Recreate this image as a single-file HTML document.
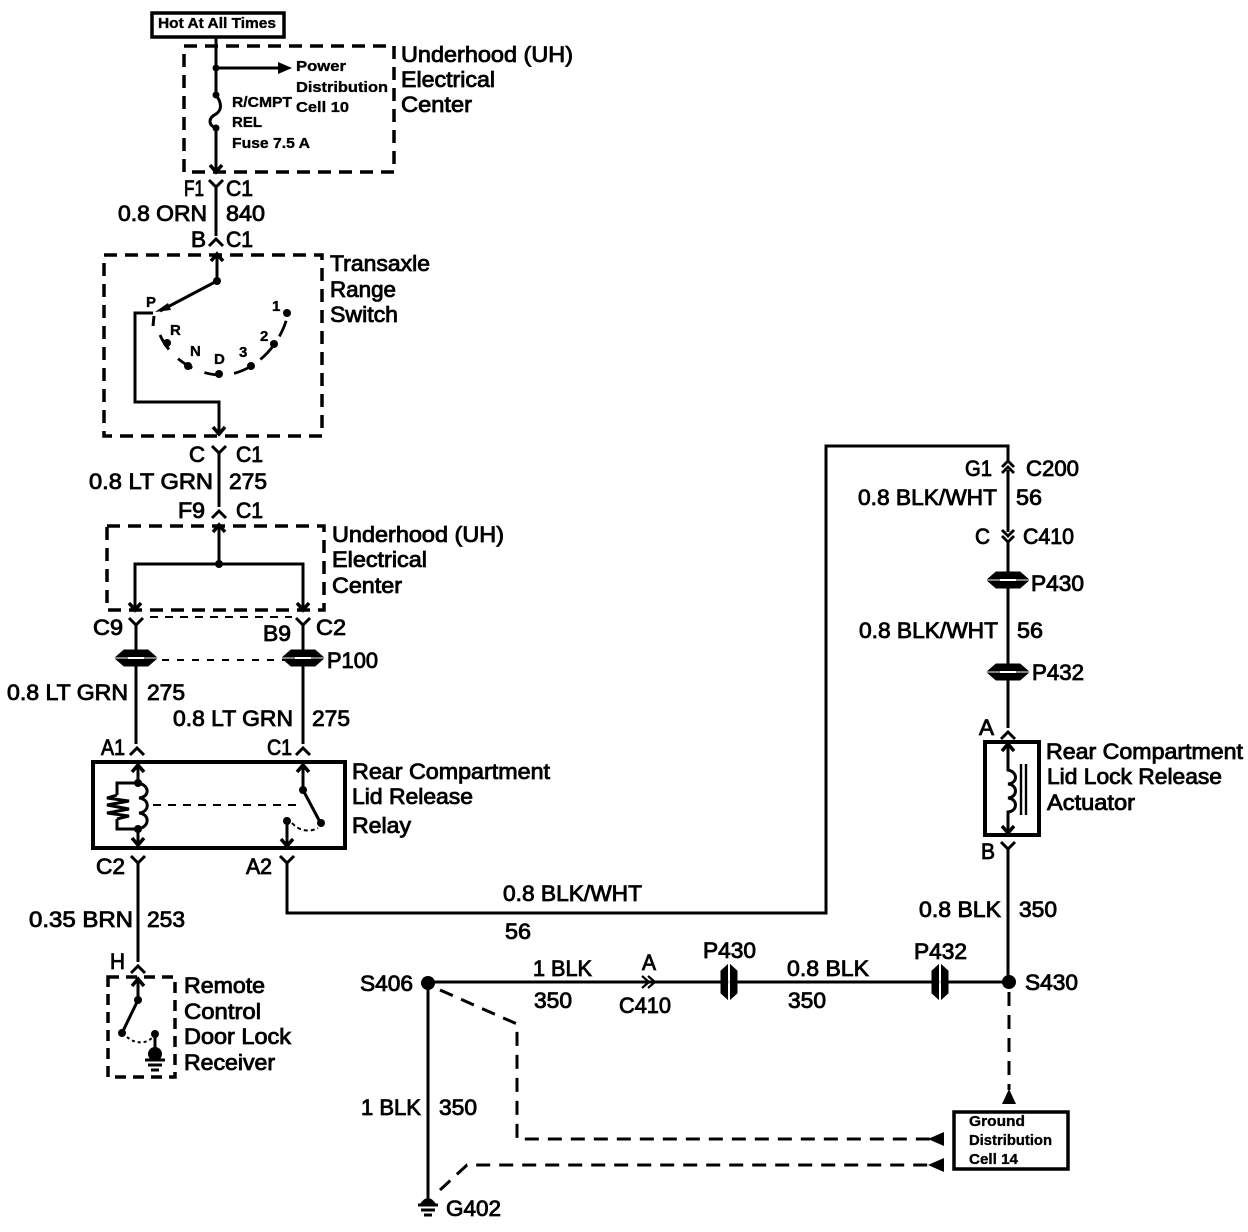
<!DOCTYPE html>
<html><head><meta charset="utf-8"><title>Rear Compartment Lid Release</title>
<style>
html,body{margin:0;padding:0;background:#fff;width:1248px;height:1232px;overflow:hidden}
svg{display:block}
text{font-family:"Liberation Sans",sans-serif;fill:#000;stroke:#000;stroke-width:.85;font-size:22px}
.s{font-size:15px;font-weight:bold;stroke-width:.35}
.l{fill:none;stroke:#000;stroke-width:3;stroke-linejoin:miter}
.t{fill:none;stroke:#000;stroke-width:2}
.d{fill:none;stroke:#000;stroke-width:3.5;stroke-dasharray:13 8}
.d2{fill:none;stroke:#000;stroke-width:2;stroke-dasharray:8 7}
</style></head><body>
<svg width="1248" height="1232" viewBox="0 0 1248 1232" xmlns="http://www.w3.org/2000/svg">
<defs>
<g id="Y"><path d="M-7,-7 L0,0 L7,-7 M0,0 V7" fill="none" stroke="#000" stroke-width="3"/></g>
<g id="U"><path d="M-7,5 L0,-2 L7,5" fill="none" stroke="#000" stroke-width="3"/></g>
<g id="au"><path d="M-6,7 L0,0 L6,7" fill="none" stroke="#000" stroke-width="3.5"/></g>
<g id="ad"><path d="M-6,-7 L0,0 L6,-7" fill="none" stroke="#000" stroke-width="3.5"/></g>
<g id="ph"><path d="M-20,-1 L-12,-8 H12 L20,-1 Z M-20,1 L-12,8 H12 L20,1 Z" fill="#000" stroke="#000" stroke-width="1"/><path d="M-8,0 H8" stroke="#fff" stroke-width="2"/></g>
<g id="pv"><path d="M-1.5,-17 L-8,-11 V11 L-1.5,17 Z M1.5,-17 L8,-11 V11 L1.5,17 Z" fill="#000" stroke="#000" stroke-width="1"/><path d="M0,-9 V9" stroke="#fff" stroke-width="1.6"/></g>
<g id="gnd"><path d="M-10,0 H10 M-7,5 H7 M-4,10 H4" fill="none" stroke="#000" stroke-width="3"/></g>
</defs>

<!-- Hot at all times -->
<rect x="152" y="13" width="132" height="24" fill="none" stroke="#000" stroke-width="3.5"/>
<text class="s" x="158" y="28" textLength="118" lengthAdjust="spacingAndGlyphs">Hot At All Times</text>

<!-- Top UH box -->
<rect x="184" y="46" width="210" height="126" class="d"/>
<path class="l" d="M216,37 V95 M216,68 H285 M216,128 V172"/>
<path d="M278,62 L292,68 L278,74 Z" fill="#000"/>
<path class="l" d="M216,95 C222,103 222,110 216,114 C208,118 208,125 216,128"/>
<circle cx="216" cy="68" r="3.5"/><circle cx="216" cy="95" r="3.5"/><circle cx="216" cy="128" r="3.5"/>
<use href="#ad" x="216" y="172"/>
<text class="s" x="296" y="71" textLength="50" lengthAdjust="spacingAndGlyphs">Power</text>
<text class="s" x="296" y="92" textLength="92" lengthAdjust="spacingAndGlyphs">Distribution</text>
<text class="s" x="296" y="112" textLength="53" lengthAdjust="spacingAndGlyphs">Cell 10</text>
<text class="s" x="232" y="107" textLength="60" lengthAdjust="spacingAndGlyphs">R/CMPT</text>
<text class="s" x="232" y="127" textLength="30" lengthAdjust="spacingAndGlyphs">REL</text>
<text class="s" x="232" y="148" textLength="78" lengthAdjust="spacingAndGlyphs">Fuse 7.5 A</text>
<text x="401" y="62" textLength="172" lengthAdjust="spacingAndGlyphs">Underhood (UH)</text>
<text x="401" y="87" textLength="94" lengthAdjust="spacingAndGlyphs">Electrical</text>
<text x="401" y="112" textLength="71" lengthAdjust="spacingAndGlyphs">Center</text>

<text x="184" y="196" textLength="20" lengthAdjust="spacingAndGlyphs">F1</text>
<text x="226" y="196" textLength="27" lengthAdjust="spacingAndGlyphs">C1</text>
<use href="#Y" x="216" y="187"/>
<path class="l" d="M216,194 V236"/>
<text x="118" y="221" textLength="89" lengthAdjust="spacingAndGlyphs">0.8 ORN</text>
<text x="226" y="221" textLength="39" lengthAdjust="spacingAndGlyphs">840</text>
<text x="191" y="247" textLength="15" lengthAdjust="spacingAndGlyphs">B</text>
<text x="226" y="247" textLength="27" lengthAdjust="spacingAndGlyphs">C1</text>
<use href="#U" x="216" y="241"/>

<!-- Transaxle -->
<rect x="104" y="255" width="218" height="181" class="d"/>
<path class="l" d="M217,256 V281 L160,311"/>
<use href="#au" x="217" y="254"/>
<circle cx="217" cy="281" r="4"/>
<path d="M155,312 L168,303 L171,310 Z" fill="#000"/>
<path class="l" d="M153,313 H135 V402 H219 V434"/>
<use href="#ad" x="219" y="434"/>
<path d="M154,316 L153,326" stroke="#000" stroke-width="3"/>
<path d="M160,335 C172,362 200,375 221,375 C250,375 278,350 287,318" fill="none" stroke="#000" stroke-width="2.8" stroke-dasharray="17 13"/>
<circle cx="167" cy="343" r="4"/><circle cx="188" cy="366" r="4"/><circle cx="219" cy="374" r="4"/><circle cx="251" cy="366" r="4"/><circle cx="274" cy="344" r="4"/><circle cx="287" cy="313" r="4"/>
<text class="s" x="146" y="307">P</text><text class="s" x="170" y="335">R</text><text class="s" x="190" y="356">N</text><text class="s" x="214" y="364">D</text><text class="s" x="239" y="357">3</text><text class="s" x="260" y="341">2</text><text class="s" x="272" y="311">1</text>
<text x="330" y="271" textLength="100" lengthAdjust="spacingAndGlyphs">Transaxle</text>
<text x="330" y="297" textLength="66" lengthAdjust="spacingAndGlyphs">Range</text>
<text x="330" y="322" textLength="68" lengthAdjust="spacingAndGlyphs">Switch</text>

<text x="189" y="462" textLength="16" lengthAdjust="spacingAndGlyphs">C</text>
<text x="236" y="462" textLength="27" lengthAdjust="spacingAndGlyphs">C1</text>
<use href="#Y" x="219" y="453"/>
<path class="l" d="M219,460 V507"/>
<text x="89" y="489" textLength="124" lengthAdjust="spacingAndGlyphs">0.8 LT GRN</text>
<text x="229" y="489" textLength="38" lengthAdjust="spacingAndGlyphs">275</text>
<text x="178" y="518" textLength="27" lengthAdjust="spacingAndGlyphs">F9</text>
<text x="236" y="518" textLength="27" lengthAdjust="spacingAndGlyphs">C1</text>
<use href="#U" x="219" y="513"/>

<!-- UH box 2 -->
<rect x="107" y="526" width="217" height="84" class="d"/>
<path class="l" d="M219,528 V564 M135,608 V564 H303 V608"/>
<use href="#au" x="219" y="525"/><circle cx="219" cy="564" r="4"/>
<use href="#ad" x="135" y="610"/><use href="#ad" x="303" y="610"/>
<text x="332" y="542" textLength="172" lengthAdjust="spacingAndGlyphs">Underhood (UH)</text>
<text x="332" y="567" textLength="95" lengthAdjust="spacingAndGlyphs">Electrical</text>
<text x="332" y="593" textLength="70" lengthAdjust="spacingAndGlyphs">Center</text>

<text x="93" y="635" textLength="30" lengthAdjust="spacingAndGlyphs">C9</text>
<text x="263" y="641" textLength="28" lengthAdjust="spacingAndGlyphs">B9</text>
<text x="316" y="635" textLength="30" lengthAdjust="spacingAndGlyphs">C2</text>
<use href="#Y" x="136" y="625"/><use href="#Y" x="303" y="625"/>
<path class="d2" d="M150,617 H292"/>
<path class="l" d="M136,632 V744 M303,632 V744"/>
<use href="#ph" x="136" y="658"/><use href="#ph" x="303" y="658"/>
<path class="d2" d="M162,660 H285" style="stroke-dasharray:7 8"/>
<text x="327" y="668" textLength="51" lengthAdjust="spacingAndGlyphs">P100</text>
<text x="7" y="700" textLength="121" lengthAdjust="spacingAndGlyphs">0.8 LT GRN</text>
<text x="147" y="700" textLength="38" lengthAdjust="spacingAndGlyphs">275</text>
<text x="173" y="726" textLength="120" lengthAdjust="spacingAndGlyphs">0.8 LT GRN</text>
<text x="312" y="726" textLength="38" lengthAdjust="spacingAndGlyphs">275</text>
<text x="101" y="755" textLength="24" lengthAdjust="spacingAndGlyphs">A1</text>
<text x="267" y="755" textLength="25" lengthAdjust="spacingAndGlyphs">C1</text>
<use href="#U" x="137" y="750"/><use href="#U" x="303" y="750"/>

<!-- Relay -->
<rect x="93" y="762" width="252" height="86" fill="none" stroke="#000" stroke-width="4"/>
<path class="l" d="M138,764 V783 M138,829 V846"/>
<use href="#au" x="138" y="765"/><use href="#ad" x="138" y="845"/>
<path class="l" d="M138,783 C150,785 150,797 139,798 C150,799 150,812 139,813 C150,814 150,827 138,829"/>
<path class="l" d="M138,783 H117 V795 M117,819 V829 H138 M117,795 L107,798 L129,801 L107,805 L129,809 L107,813 L129,816 L117,819"/>
<circle cx="138" cy="783" r="4"/><circle cx="138" cy="829" r="4"/>
<path class="d2" d="M153,805 H302"/>
<path class="l" d="M303,765 V790 L320,822"/>
<use href="#au" x="303" y="765"/>
<circle cx="303" cy="790" r="4"/><circle cx="321" cy="823" r="4"/><circle cx="287" cy="821" r="4"/>
<path class="l" d="M287,821 V846"/><use href="#ad" x="287" y="846"/>
<path d="M292,823 C300,832 310,832 318,828" fill="none" stroke="#000" stroke-width="2" stroke-dasharray="4 3"/>
<text x="352" y="779" textLength="198" lengthAdjust="spacingAndGlyphs">Rear Compartment</text>
<text x="352" y="804" textLength="121" lengthAdjust="spacingAndGlyphs">Lid Release</text>
<text x="352" y="833" textLength="59" lengthAdjust="spacingAndGlyphs">Relay</text>

<text x="96" y="874" textLength="29" lengthAdjust="spacingAndGlyphs">C2</text>
<text x="246" y="874" textLength="26" lengthAdjust="spacingAndGlyphs">A2</text>
<use href="#Y" x="138" y="863"/><use href="#Y" x="287" y="863"/>
<path class="l" d="M138,868 V962"/>
<path class="l" d="M287,868 V913 H826 V446 H1008 V463"/>
<text x="503" y="901" textLength="139" lengthAdjust="spacingAndGlyphs">0.8 BLK/WHT</text>
<text x="505" y="939" textLength="26" lengthAdjust="spacingAndGlyphs">56</text>
<text x="29" y="927" textLength="104" lengthAdjust="spacingAndGlyphs">0.35 BRN</text>
<text x="147" y="927" textLength="38" lengthAdjust="spacingAndGlyphs">253</text>
<text x="110" y="969" textLength="15" lengthAdjust="spacingAndGlyphs">H</text>
<use href="#U" x="138" y="968"/>

<!-- Receiver -->
<rect x="108" y="977" width="67" height="100" class="d" style="stroke-dasharray:11 7"/>
<path class="l" d="M138,980 V1000 L122,1033"/>
<use href="#au" x="138" y="979"/>
<circle cx="138" cy="1000" r="4"/><circle cx="122" cy="1033" r="4"/><circle cx="155" cy="1034" r="4"/>
<path d="M127,1037 C135,1044 145,1044 152,1038" fill="none" stroke="#000" stroke-width="2" stroke-dasharray="3 3"/>
<path class="l" d="M155,1034 V1058"/>
<circle cx="155" cy="1054" r="7"/><use href="#gnd" x="155" y="1060"/>
<text x="184" y="993" textLength="81" lengthAdjust="spacingAndGlyphs">Remote</text>
<text x="184" y="1019" textLength="77" lengthAdjust="spacingAndGlyphs">Control</text>
<text x="184" y="1044" textLength="107" lengthAdjust="spacingAndGlyphs">Door Lock</text>
<text x="184" y="1070" textLength="91" lengthAdjust="spacingAndGlyphs">Receiver</text>

<!-- Right column -->
<path d="M1002,467 L1008,461 L1014,467 M1002,473 L1008,467 L1014,473" fill="none" stroke="#000" stroke-width="2.8"/>
<path class="l" d="M1008,470 V532 M1008,540 V728"/>
<path d="M1002,530 L1008,536 L1014,530 M1002,536 L1008,542 L1014,536" fill="none" stroke="#000" stroke-width="2.8"/>
<text x="965" y="476" textLength="27" lengthAdjust="spacingAndGlyphs">G1</text>
<text x="1026" y="476" textLength="53" lengthAdjust="spacingAndGlyphs">C200</text>
<text x="858" y="505" textLength="139" lengthAdjust="spacingAndGlyphs">0.8 BLK/WHT</text>
<text x="1016" y="505" textLength="26" lengthAdjust="spacingAndGlyphs">56</text>
<text x="975" y="544" textLength="15" lengthAdjust="spacingAndGlyphs">C</text>
<text x="1023" y="544" textLength="51" lengthAdjust="spacingAndGlyphs">C410</text>
<use href="#ph" x="1008" y="580"/>
<text x="1031" y="591" textLength="53" lengthAdjust="spacingAndGlyphs">P430</text>
<text x="859" y="638" textLength="139" lengthAdjust="spacingAndGlyphs">0.8 BLK/WHT</text>
<text x="1017" y="638" textLength="26" lengthAdjust="spacingAndGlyphs">56</text>
<use href="#ph" x="1008" y="672"/>
<text x="1032" y="680" textLength="52" lengthAdjust="spacingAndGlyphs">P432</text>
<text x="979" y="735" textLength="15" lengthAdjust="spacingAndGlyphs">A</text>
<use href="#U" x="1008" y="734"/>

<rect x="985" y="742" width="54" height="93" fill="none" stroke="#000" stroke-width="4"/>
<path class="l" d="M1008,744 V770 C1018,772 1018,783 1008,784 C1018,785 1018,797 1008,798 C1018,799 1018,811 1008,812 V832"/>
<use href="#au" x="1008" y="744"/><use href="#ad" x="1008" y="833"/>
<path d="M1021,764 V815 M1026,764 V815" stroke="#000" stroke-width="2.4"/>
<text x="1046" y="759" textLength="197" lengthAdjust="spacingAndGlyphs">Rear Compartment</text>
<text x="1047" y="784" textLength="175" lengthAdjust="spacingAndGlyphs">Lid Lock Release</text>
<text x="1047" y="810" textLength="88" lengthAdjust="spacingAndGlyphs">Actuator</text>
<text x="981" y="859" textLength="14" lengthAdjust="spacingAndGlyphs">B</text>
<use href="#Y" x="1008" y="849"/>
<path class="l" d="M1008,855 V982"/>
<text x="919" y="917" textLength="82" lengthAdjust="spacingAndGlyphs">0.8 BLK</text>
<text x="1019" y="917" textLength="38" lengthAdjust="spacingAndGlyphs">350</text>

<!-- Bottom horizontal -->
<circle cx="428" cy="983" r="7"/>
<circle cx="1009" cy="982" r="7"/>
<path class="l" d="M428,982 H1008 M428,984 V1198"/>
<path d="M642,976 L649,982 L642,988 M648,976 L655,982 L648,988" fill="none" stroke="#000" stroke-width="2.2"/>
<use href="#pv" x="729" y="982"/><use href="#pv" x="940" y="982"/>
<text x="360" y="991" textLength="53" lengthAdjust="spacingAndGlyphs">S406</text>
<text x="533" y="976" textLength="59" lengthAdjust="spacingAndGlyphs">1 BLK</text>
<text x="534" y="1008" textLength="38" lengthAdjust="spacingAndGlyphs">350</text>
<text x="642" y="970" textLength="14" lengthAdjust="spacingAndGlyphs">A</text>
<text x="619" y="1013" textLength="52" lengthAdjust="spacingAndGlyphs">C410</text>
<text x="703" y="958" textLength="53" lengthAdjust="spacingAndGlyphs">P430</text>
<text x="787" y="976" textLength="82" lengthAdjust="spacingAndGlyphs">0.8 BLK</text>
<text x="788" y="1008" textLength="38" lengthAdjust="spacingAndGlyphs">350</text>
<text x="914" y="959" textLength="53" lengthAdjust="spacingAndGlyphs">P432</text>
<text x="1025" y="990" textLength="53" lengthAdjust="spacingAndGlyphs">S430</text>
<text x="361" y="1115" textLength="60" lengthAdjust="spacingAndGlyphs">1 BLK</text>
<text x="439" y="1115" textLength="38" lengthAdjust="spacingAndGlyphs">350</text>
<path d="M420,1204 Q428,1192 436,1204 Z" fill="#000"/><use href="#gnd" x="428" y="1205"/>
<text x="446" y="1216" textLength="55" lengthAdjust="spacingAndGlyphs">G402</text>

<!-- dashed to ground -->
<path class="d" style="stroke-width:3;stroke-dasharray:14 9" d="M1009,992 V1090"/>
<path d="M1009,1089 L1002,1104 H1016 Z" fill="#000"/>
<path class="d" style="stroke-width:3;stroke-dasharray:14 9" d="M440,990 L517,1024 V1139 H930"/>
<path d="M928,1139 L944,1132 V1146 Z" fill="#000"/>
<path class="d" style="stroke-width:3;stroke-dasharray:14 9" d="M440,1190 L467,1165 H930"/>
<path d="M928,1165 L944,1158 V1172 Z" fill="#000"/>
<rect x="954" y="1112" width="114" height="57" fill="none" stroke="#000" stroke-width="3.5"/>
<text class="s" x="969" y="1126" textLength="56" lengthAdjust="spacingAndGlyphs">Ground</text>
<text class="s" x="969" y="1145" textLength="83" lengthAdjust="spacingAndGlyphs">Distribution</text>
<text class="s" x="969" y="1164" textLength="49" lengthAdjust="spacingAndGlyphs">Cell 14</text>
</svg>
</body></html>
